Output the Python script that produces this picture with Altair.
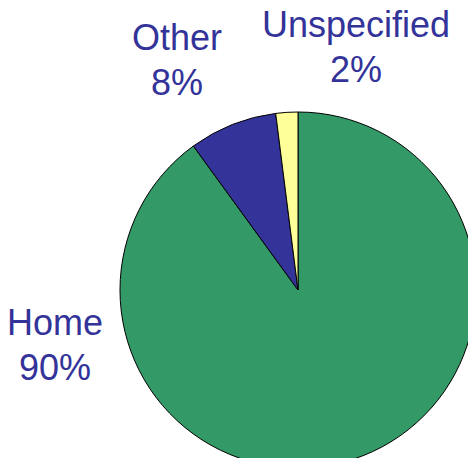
import altair as alt
import pandas as pd

categories = ["Home", "Other", "Unspecified"]
values = [90, 8, 2]
labels = ["90%", "8%", "2%"]
colors = ["#339966", "#333399", "#FFFF99"]

df = pd.DataFrame({
    "category": categories,
    "value": values,
    "label": [f"{c}\n{p}" for c, p in zip(categories, labels)],
    "order": list(range(len(categories))),
})

pie = alt.Chart(df).mark_arc(stroke="black", strokeWidth=1).encode(
    theta=alt.Theta("value:Q", stack=True),
    order=alt.Order("order:Q"),
    color=alt.Color("category:N", scale=alt.Scale(domain=categories, range=colors), legend=None),
    x=alt.value(290),
    y=alt.value(282),
    radius=alt.value(178),
)

# label anchor positions (layout), one per category
label_pos = {"Home": (47, 327), "Other": (169, 42), "Unspecified": (348, 29)}

layers = [pie]
for cat, (lx, ly) in label_pos.items():
    layers.append(
        alt.Chart(df).transform_filter(alt.datum.category == cat).mark_text(
            font="Liberation Sans", fontSize=36, color="#333399",
            align="center", baseline="alphabetic", lineBreak="\n", lineHeight=45,
        ).encode(text="label:N", x=alt.value(lx), y=alt.value(ly))
    )

chart = alt.layer(*layers).properties(
    width=460, height=450, autosize=alt.AutoSizeParams(type="none"), padding=0
).configure_view(stroke=None)

chart.save("out.html", embed_options={"renderer": "svg", "actions": False})
